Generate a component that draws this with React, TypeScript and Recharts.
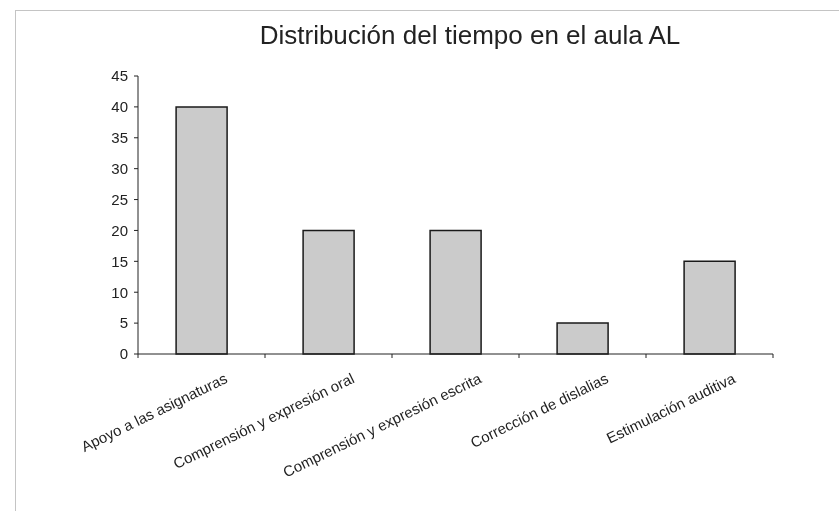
import React from 'react';
import { BarChart, Bar, XAxis, YAxis } from 'recharts';

// Categorías y minutos
const categories = [
  'Apoyo a las asignaturas',
  'Comprensión y expresión oral',
  'Comprensión y expresión escrita',
  'Corrección de dislalias',
  'Estimulación auditiva',
];
const tiempo = [40, 20, 20, 5, 15];
const yTicks = [0, 5, 10, 15, 20, 25, 30, 35, 40, 45];

const data = categories.map((name, i) => ({ name, tiempo: tiempo[i] }));

const W = 839;
const H = 511;
const margin = { top: 76, right: 66, left: 0, bottom: 0 };
const Y_AXIS_W = 138;
const X_AXIS_H = 157;
const band = (W - Y_AXIS_W - margin.right) / categories.length;

const FONT = '"Liberation Sans", Arial, sans-serif';

// etiqueta girada + marcas entre categorías
const XTick = (props: any) => {
  const { x, y, payload, index } = props;
  return (
    <g>
      <line x1={x - band / 2} y1={y} x2={x - band / 2} y2={y + 4} stroke="#222" strokeWidth={1} />
      {index === categories.length - 1 && (
        <line x1={x + band / 2} y1={y} x2={x + band / 2} y2={y + 4} stroke="#222" strokeWidth={1} />
      )}
      <g transform={`translate(${x + 27},${y + 28})`}>
        <text
          x={0}
          y={0}
          textAnchor="end"
          fill="#222"
          fontSize={15}
          fontFamily={FONT}
          transform="rotate(-26)"
        >
          {payload.value}
        </text>
      </g>
    </g>
  );
};

const App = () => {
  return (
    <div style={{ position: 'fixed', left: 0, top: 0, width: W, height: H, background: '#fff' }}>
      <div
        style={{
          position: 'absolute',
          left: 15,
          top: 10,
          right: 0,
          bottom: 0,
          borderTop: '1px solid #c4c4c4',
          borderLeft: '1px solid #c4c4c4',
        }}
      />
      <div
        style={{
          position: 'absolute',
          left: 0,
          top: 20,
          width: 940,
          textAlign: 'center',
          fontFamily: FONT,
          fontSize: 26,
          color: '#222',
        }}
      >
        Distribución del tiempo en el aula AL
      </div>
      <div style={{ position: 'absolute', left: 0, top: 0 }}>
        <BarChart width={W} height={H} data={data} margin={margin} barCategoryGap="30%">
          <XAxis
            dataKey="name"
            interval={0}
            height={X_AXIS_H}
            stroke="#222"
            tickLine={false}
            tickSize={0}
            tickMargin={0}
            tick={<XTick />}
          />
          <YAxis
            width={Y_AXIS_W}
            domain={[0, 45]}
            ticks={yTicks}
            interval={0}
            stroke="#222"
            tickSize={4}
            tickMargin={6}
            tick={{ fill: '#222', fontSize: 15, fontFamily: FONT }}
          />
          <Bar dataKey="tiempo" fill="#cbcbcb" stroke="#1a1a1a" strokeWidth={1.5} isAnimationActive={false} />
        </BarChart>
      </div>
    </div>
  );
};

export default App;
